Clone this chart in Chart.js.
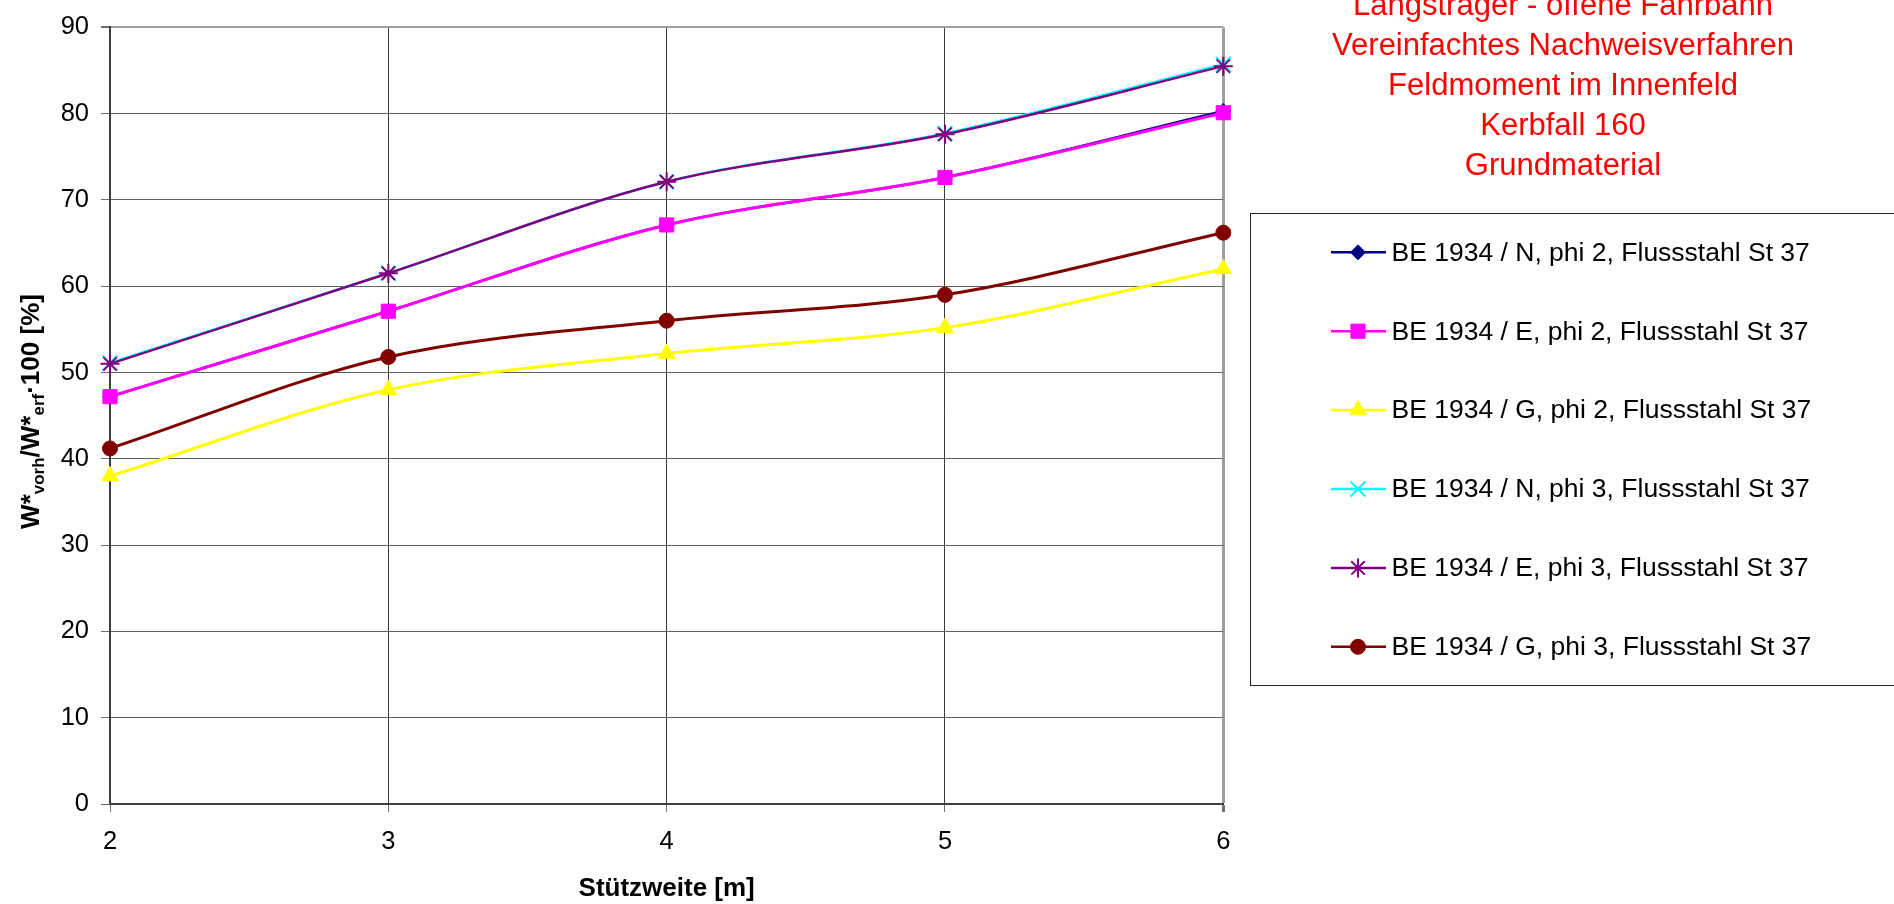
<!DOCTYPE html>
<html><head><meta charset="utf-8">
<script src="https://cdn.jsdelivr.net/npm/chart.js@4.4.1/dist/chart.umd.min.js"></script>
<style>html,body{margin:0;padding:0;background:#fff;overflow:hidden}canvas{display:block}</style>
</head><body>
<canvas id="c" width="1894" height="904"></canvas>
<script>
// ---- data ----
const xValues = [2, 3, 4, 5, 6];
const seriesNames = [
  'BE 1934 / N, phi 2, Flussstahl St 37',
  'BE 1934 / E, phi 2, Flussstahl St 37',
  'BE 1934 / G, phi 2, Flussstahl St 37',
  'BE 1934 / N, phi 3, Flussstahl St 37',
  'BE 1934 / E, phi 3, Flussstahl St 37',
  'BE 1934 / G, phi 3, Flussstahl St 37'
];
const beNPhi2 = [47.2, 57.1, 67.1, 72.6, 80.3];
const beEPhi2 = [47.2, 57.1, 67.1, 72.6, 80.1];
const beGPhi2 = [38.0, 48.0, 52.2, 55.2, 62.0];
const beNPhi3 = [51.1, 61.5, 72.1, 77.7, 85.7];
const beEPhi3 = [51.0, 61.5, 72.1, 77.6, 85.5];
const beGPhi3 = [41.2, 51.8, 56.0, 59.0, 66.2];
const titleLines = ['Längsträger - offene Fahrbahn', 'Vereinfachtes Nachweisverfahren', 'Feldmoment im Innenfeld', 'Kerbfall 160', 'Grundmaterial'];
const xTitle = 'Stützweite [m]';
const yTitleParts = [['W*', false], ['vorh', true], ['/W*', false], ['erf', true], ['·100 [%]', false]];
const yMin = 0, yMax = 90, yStep = 10;

// ---- styles ----
const FONT = "'Liberation Sans', Arial, sans-serif";
const seriesValues = [beNPhi2, beEPhi2, beGPhi2, beNPhi3, beEPhi3, beGPhi3];
const styles = [
  {color: '#000080', pointStyle: 'rectRot', radius: 7.5, lw: 2.5, bw: 1},
  {color: '#FF00FF', pointStyle: 'rect', radius: 10, lw: 3, bw: 1},
  {color: '#FFFF00', pointStyle: 'triangle', radius: 9.5, lw: 3, bw: 1},
  {color: '#00FFFF', pointStyle: 'crossRot', radius: 10.5, lw: 2.5, bw: 2},
  {color: '#800080', pointStyle: 'star', radius: 9.5, lw: 2.5, bw: 2},
  {color: '#800000', pointStyle: 'circle', radius: 7.5, lw: 3, bw: 1}
];

const datasets = seriesValues.map((vals, i) => ({
  label: seriesNames[i],
  data: vals.map((v, j) => ({x: xValues[j], y: v})),
  borderColor: styles[i].color,
  backgroundColor: styles[i].color,
  borderWidth: styles[i].lw,
  pointStyle: styles[i].pointStyle,
  pointRadius: styles[i].radius,
  pointBorderWidth: styles[i].bw,
  pointBorderColor: styles[i].color,
  pointBackgroundColor: styles[i].color,
  tension: 0.33,
  fill: false,
  clip: false,
  order: seriesValues.length - i
}));

const decorPlugin = {
  id: 'decor',
  afterDraw(chart) {
    const ctx = chart.ctx;
    ctx.save();
    // title
    ctx.fillStyle = '#FF0000';
    ctx.font = '31px ' + FONT;
    ctx.textAlign = 'center';
    ctx.textBaseline = 'alphabetic';
    titleLines.forEach((t, i) => ctx.fillText(t, 1563, 15 + i * 40));
    // legend box
    ctx.strokeStyle = '#222';
    ctx.lineWidth = 1;
    ctx.strokeRect(1250.5, 213.5, 700, 472);
    chart.data.datasets.forEach((ds, i) => {
      const y = 252.3 + i * 78.9;
      ctx.strokeStyle = ds.borderColor;
      ctx.lineWidth = 2.5;
      ctx.beginPath();
      ctx.moveTo(1331, y);
      ctx.lineTo(1386, y);
      ctx.stroke();
      ctx.fillStyle = ds.pointBackgroundColor;
      ctx.strokeStyle = ds.pointBorderColor;
      ctx.lineWidth = ds.pointBorderWidth;
      Chart.helpers.drawPoint(ctx, {pointStyle: ds.pointStyle, radius: ds.pointRadius, rotation: 0, borderWidth: ds.pointBorderWidth}, 1358, y);
      ctx.fillStyle = '#000';
      ctx.font = '26.5px ' + FONT;
      ctx.textAlign = 'left';
      ctx.textBaseline = 'middle';
      ctx.fillText(ds.label, 1391.5, y + 1);
    });
    // y-axis title with subscripts
    const mainF = 'bold 26px ' + FONT, subF = 'bold 17px ' + FONT;
    let total = 0;
    yTitleParts.forEach(([t, sub]) => { ctx.font = sub ? subF : mainF; total += ctx.measureText(t).width; });
    ctx.translate(39, 411.5);
    ctx.rotate(-Math.PI / 2);
    ctx.fillStyle = '#000';
    ctx.textAlign = 'left';
    ctx.textBaseline = 'alphabetic';
    let pos = -total / 2;
    yTitleParts.forEach(([t, sub]) => {
      ctx.font = sub ? subF : mainF;
      ctx.fillText(t, pos, sub ? 5 : 0);
      pos += ctx.measureText(t).width;
    });
    ctx.restore();
  }
};

new Chart(document.getElementById('c'), {
  type: 'line',
  data: {datasets},
  options: {
    responsive: false,
    animation: false,
    devicePixelRatio: 1,
    layout: {padding: {left: 0, right: 670.7, top: 20.7, bottom: 0}},
    plugins: {legend: {display: false}, title: {display: false}, tooltip: {enabled: false}},
    scales: {
      x: {
        type: 'linear', min: xValues[0], max: xValues[xValues.length - 1],
        afterFit(s) { s.height = 100; },
        ticks: {stepSize: 1, color: '#000', font: {family: FONT, size: 25.5}, padding: 15, maxRotation: 0},
        grid: {
          color: c => c.tick && c.tick.value === 6 ? '#a0a0a0' : '#3a3a3a',
          lineWidth: c => c.tick && c.tick.value === 6 ? 3 : 1,
          tickLength: 8, tickColor: '#707070'
        },
        border: {display: true, color: '#404040', width: 2},
        title: {display: true, text: xTitle, color: '#000', font: {family: FONT, size: 26, weight: 'bold'}, padding: {top: 0, bottom: 0}}
      },
      y: {
        min: yMin, max: yMax,
        afterFit(s) { s.width = 110; },
        ticks: {stepSize: yStep, color: '#000', font: {family: FONT, size: 25.5}, padding: 12},
        grid: {
          color: c => c.tick && c.tick.value === 90 ? '#a0a0a0' : '#606060',
          lineWidth: c => c.tick && c.tick.value === 90 ? 2 : 1,
          tickLength: 9, tickColor: '#707070'
        },
        border: {display: true, color: '#404040', width: 2}
      }
    }
  },
  plugins: [decorPlugin]
});
</script>
</body></html>
